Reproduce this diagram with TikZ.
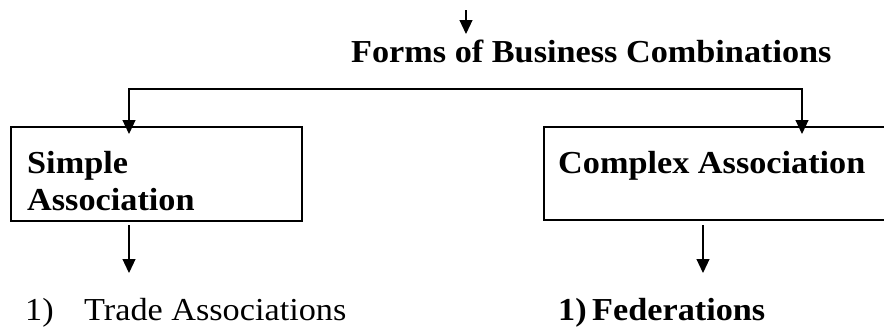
\documentclass[tikz,border=0pt]{standalone}
\usepackage{fontspec}
\setmainfont{Liberation Serif}[FakeStretch=1.07]
\usetikzlibrary{arrows.meta}

\tikzset{
  conn/.style={line width=1.2pt, -{Triangle[length=14pt,width=13pt]}},
  bothways/.style={line width=1.2pt, {Triangle[length=14pt,width=13pt]}-{Triangle[length=14pt,width=13pt]}},
  box/.style={draw, line width=1.6pt, rectangle, inner sep=0pt},
  txt/.style={anchor=base west, inner sep=0pt, font=\fontsize{32}{38}\selectfont},
  btxt/.style={txt, font=\fontsize{32}{38}\selectfont\bfseries},
}

\begin{document}
\begin{tikzpicture}[x=1pt, y=-1pt]
  \useasboundingbox (0,0) rectangle (884,327);
  \clip (0,0) rectangle (884,327);

  % heading with its incoming arrow
  \node[btxt] (title) at (351,62) {Forms of Business Combinations};
  \coordinate (topin) at (466,10);
  \coordinate (titlein) at (466,34);
  \draw[conn] (topin) -- (titlein);

  % the two kinds of association
  \node[box, minimum width=291pt, minimum height=94pt, anchor=north west] (simple) at (10,126) {};
  \node[box, minimum width=350pt, minimum height=93pt, anchor=north west] (complex) at (543,126) {};
  \node[btxt] (simpleA) at (27,173) {Simple};
  \node[btxt] (simpleB) at (27,210) {Association};
  \node[btxt] (complexA) at (558,173) {Complex Association};

  % branching bar
  \coordinate (sin) at (129,134);
  \coordinate (cin) at (802,134);
  \coordinate (bar) at (466,89);
  \draw[bothways] (sin) |- (bar) -| (cin);

  % arrows to the first item of each kind
  \coordinate (sout) at (129,225);
  \coordinate (sitem) at (129,273);
  \coordinate (cout) at (703,225);
  \coordinate (citem) at (703,273);
  \draw[conn] (sout) -- (sitem);
  \draw[conn] (cout) -- (citem);

  \node[txt] (trnum) at (25,320) {1)};
  \node[txt] (trade) at (84,320) {Trade Associations};
  \node[btxt] (fednum) at (558,320) {1)};
  \node[btxt] (fed) at (592,320) {Federations};
\end{tikzpicture}
\end{document}
